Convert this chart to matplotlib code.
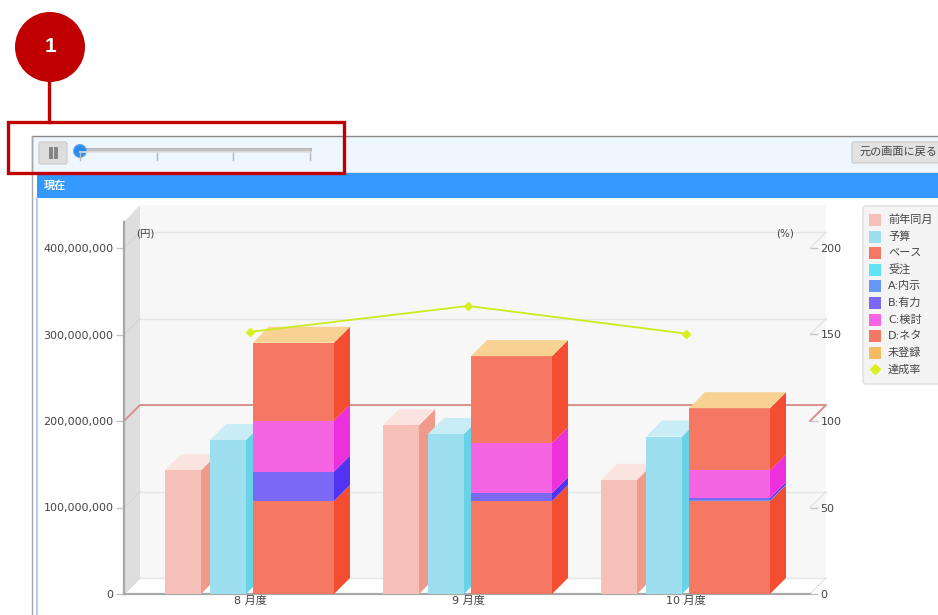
import matplotlib
matplotlib.use("Agg")
import matplotlib.pyplot as plt
from matplotlib.patches import Rectangle, Polygon, Circle, FancyBboxPatch

plt.rcParams['font.family'] = ['DejaVu Sans', 'Noto Sans CJK JP']

categories = ['8 月度', '9 月度', '10 月度']
prior_year = [143e6, 195e6, 132e6]
budget = [178e6, 185e6, 182e6]
base = [107.5e6, 107.5e6, 107.5e6]
orders = [0, 0, 0]
a_naiji = [0, 0, 0.8e6]
b_yuryoku = [34e6, 9e6, 2.5e6]
c_kento = [59e6, 58e6, 32e6]
d_neta = [90e6, 100.5e6, 72e6]
unregistered = [0, 0, 0]
achievement = [151.5, 166.5, 150.5]
left_ticks = [0, 100e6, 200e6, 300e6, 400e6]
right_ticks = [0, 50, 100, 150, 200]
legend_labels = ['前年同月', '予算', 'ベース', '受注', 'A:内示', 'B:有力', 'C:検討', 'D:ネタ', '未登録', '達成率']
legend_colors = ['#f6c0b8', '#9ddfee', '#f57864', '#5fe3f5', '#6699f5', '#7b68f5', '#f564e2', '#f57864', '#f6bb60', '#d8f020']

W, H = 938, 615
fig = plt.figure(figsize=(W / 100, H / 100), dpi=100, facecolor='white')

# page chrome in pixel coordinates
bg = fig.add_axes([0, 0, 1, 1], zorder=0)
bg.set_xlim(0, W); bg.set_ylim(H, 0); bg.axis('off')
bg.add_patch(Rectangle((32, 136), 910, 37, fc='#eef6fe', ec='#8a8a8a', lw=1))
bg.plot([32, 32], [136, 615], color='#a8a8a8', lw=1)
bg.plot([37, 37], [198, 615], color='#b5cdf5', lw=1.5)
bg.add_patch(Rectangle((37, 173), 905, 25, fc='#3399ff', ec='none'))
bg.text(44, 186, '現在', color='white', fontsize=8, fontweight='bold', va='center')
bg.add_patch(FancyBboxPatch((39, 142), 28, 22, boxstyle='round,pad=0,rounding_size=2', fc='#dddddd', ec='#cfcfcf', lw=1))
bg.add_patch(Rectangle((49, 147), 3.5, 12, fc='#858585', ec='none'))
bg.add_patch(Rectangle((54, 147), 3.5, 12, fc='#858585', ec='none'))
bg.add_patch(Rectangle((80, 148), 231, 3, fc='#c4c4c4', ec='#a8a8a8', lw=0.5))
bg.plot([80, 311], [152, 152], color='#dedede', lw=1.2)
for tx in (80, 157, 233, 310):
    bg.plot([tx, tx], [153, 160], color='#b8b8b8', lw=1)
bg.add_patch(Circle((80, 151), 6.5, fc='#2f8df0', ec='#6aa9e8', lw=0.7))
bg.add_patch(FancyBboxPatch((852, 142), 90, 21, boxstyle='round,pad=0,rounding_size=2', fc='#e2e2e2', ec='#cfcfcf', lw=1))
bg.text(859, 152, '元の画面に戻る', fontsize=8, color='#444444', va='center')
bg.add_patch(Rectangle((140, 205), 686, 373, fc='#f7f7f7', ec='none'))
bg.add_patch(Polygon([(124, 222), (140, 205), (140, 578), (124, 594)], fc='#dedede', ec='none'))
bg.add_patch(FancyBboxPatch((863, 206), 90, 178, boxstyle='round,pad=0,rounding_size=3', fc='#f4f4f4', ec='#dddddd', lw=1))

# chart axes: front plane of the 3D box
L, R, T, B = 124, 810, 222, 594
ax = fig.add_axes([L / W, 1 - B / H, (R - L) / W, (B - T) / H], zorder=1)
ax.patch.set_alpha(0)
px_x = 218.0
px_y = 346 / 400e6
ax.set_xlim((L - 250) / px_x, (R - 250) / px_x)
ax.set_ylim(0, (B - T) / px_y)
ddx, ddy = 16 / px_x, 16 / px_y


def box(x0, x1, y0, y1, front, side, top=None, z=3):
    ax.add_patch(Polygon([(x1, y0), (x1 + ddx, y0 + ddy), (x1 + ddx, y1 + ddy), (x1, y1)],
                         fc=side, ec='none', zorder=z, clip_on=False))
    if top is not None:
        ax.add_patch(Polygon([(x0, y1), (x0 + ddx, y1 + ddy), (x1 + ddx, y1 + ddy), (x1, y1)],
                             fc=top, ec='none', zorder=z, clip_on=False))
    ax.add_patch(Rectangle((x0, y0), x1 - x0, y1 - y0, fc=front, ec='none', zorder=z + 0.1))


# grid on back wall with its diagonals
for v in left_ticks:
    ax.plot([(L - 250) / px_x + ddx, (R - 250) / px_x + ddx], [v + ddy, v + ddy], color='#e6e6e6', lw=1, zorder=1, clip_on=False)
    ax.plot([(L - 250) / px_x, (L - 250) / px_x + ddx], [v, v + ddy], color='#d4d4d4', lw=0.8, zorder=1, clip_on=False)
    ax.plot([(R - 250) / px_x, (R - 250) / px_x + ddx], [v, v + ddy], color='#e0e0e0', lw=0.8, zorder=1, clip_on=False)
ax.add_patch(Polygon([((L - 250) / px_x, 0), ((L - 250) / px_x + ddx, ddy), ((R - 250) / px_x + ddx, ddy), ((R - 250) / px_x, 0)],
                     fc='white', ec='none', zorder=0.5, clip_on=False))

# 100% reference line
ref_v = 100 * 1.73 / px_y
ax.plot([(L - 250) / px_x, (L - 250) / px_x + ddx, (R - 250) / px_x + ddx, (R - 250) / px_x],
        [ref_v, ref_v + ddy, ref_v + ddy, ref_v], color='#d98a8a', lw=1.3, zorder=2, clip_on=False)

stack_series = [
    (base, '#f57864', '#f44e32'),
    (orders, '#5fe3f5', '#38d0ea'),
    (a_naiji, '#6699f5', '#3a70ee'),
    (b_yuryoku, '#7b68f5', '#5233f2'),
    (c_kento, '#f564e2', '#ee30dc'),
    (d_neta, '#f57864', '#f44e32'),
    (unregistered, '#f6bb60', '#f6a93a'),
]
for i in range(len(categories)):
    box(i + (165 - 250) / px_x, i + (201 - 250) / px_x, 0, prior_year[i], '#f6c0b8', '#f09a8c', '#fbe4e0', z=3)
    box(i + (210 - 250) / px_x, i + (246 - 250) / px_x, 0, budget[i], '#9ddfee', '#68d2e6', '#c8edf4', z=4)
    y = 0
    for vals, front, side in stack_series:
        v = vals[i]
        if v > 0:
            box(i + (253 - 250) / px_x, i + (334 - 250) / px_x, y, y + v, front, side, z=5)
            y += v
    ax.add_patch(Polygon([(i + 3 / px_x, y), (i + 3 / px_x + ddx, y + ddy), (i + 84 / px_x + ddx, y + ddy), (i + 84 / px_x, y)],
                         fc='#f8d292', ec='none', zorder=5.2, clip_on=False))

ax.set_xticks(range(len(categories)), categories)
ax.set_yticks(left_ticks, [f'{v:,.0f}' for v in left_ticks])
ax.tick_params(axis='y', length=5.5, width=1, color='#c4c4c4', labelsize=8, labelcolor='#444444', pad=2)
ax.tick_params(axis='x', length=0, labelsize=8, labelcolor='#444444', pad=1)
for s in ('top', 'right'):
    ax.spines[s].set_visible(False)
for s in ('left', 'bottom'):
    ax.spines[s].set_color('#a8a8a8')
    ax.spines[s].set_linewidth(1.6)

# percentage axis
ax2 = ax.twinx()
ax2.patch.set_alpha(0)
ax2.set_ylim(0, (B - T) / 1.73)
ax2.set_yticks(right_ticks, [str(v) for v in right_ticks])
ax2.tick_params(axis='y', length=5.5, width=1, color='#c4c4c4', labelsize=8, labelcolor='#444444', pad=2)
for s in ax2.spines.values():
    s.set_visible(False)
ax2.plot(range(len(categories)), achievement, color='#cdea1e', lw=1.3, marker='D', ms=4,
         mfc='#d8f020', mec='#d8f020', zorder=6)

# overlay: unit labels, legend, annotation callout
fg = fig.add_axes([0, 0, 1, 1], zorder=3)
fg.set_xlim(0, W); fg.set_ylim(H, 0); fg.axis('off')
fg.text(136, 234, '(円)', fontsize=7.5, color='#444444', va='center')
fg.text(776, 234, '(%)', fontsize=7.5, color='#444444', va='center')
for k, (lab, col) in enumerate(zip(legend_labels, legend_colors)):
    yy = 220 + k * 16.6
    if k == len(legend_labels) - 1:
        fg.plot([875], [yy], marker='D', ms=5, color=col, ls='none')
    else:
        fg.add_patch(Rectangle((869, yy - 6), 12, 12, fc=col, ec='none'))
    fg.text(888, yy, lab, fontsize=8, color='#444444', va='center')
fg.add_patch(Rectangle((8, 122), 336, 51, fc='none', ec='#c00000', lw=2.4))
fg.plot([49, 49], [80, 122], color='#c00000', lw=2.4)
fg.add_patch(Circle((50, 47), 35, fc='#c00000', ec='none'))
fg.text(50, 47, '1', color='white', fontsize=15, fontweight='bold', ha='center', va='center',
        family=['Liberation Sans', 'DejaVu Sans'])

fig.savefig('out.png', dpi=100)
